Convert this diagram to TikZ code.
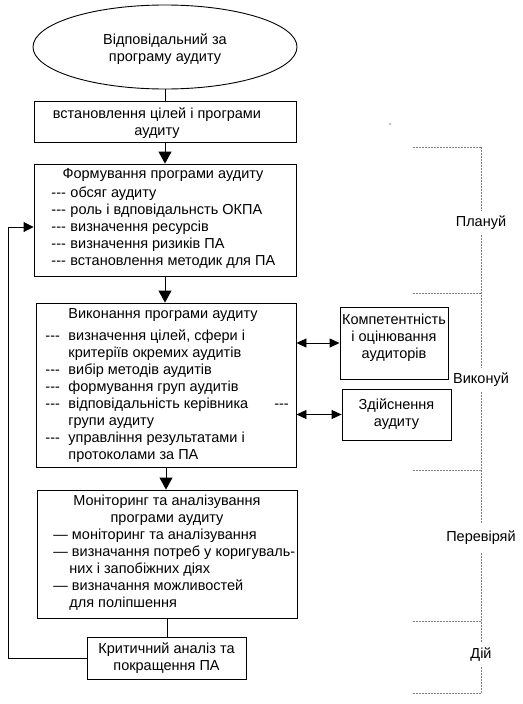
\documentclass[tikz,border=0pt]{standalone}
\usepackage{fontspec}
\setmainfont{Liberation Sans}
\usetikzlibrary{arrows.meta,shapes.geometric}
\newcommand{\dsh}[1]{\makebox[#1][l]{\mbox{-}\mbox{-}\mbox{-}}}

\begin{document}
\begin{tikzpicture}[x=1pt, y=-1pt, line width=0.9pt,
	every node/.style={font=\fontsize{14.5}{17}\selectfont, inner sep=0pt},
	blk/.style={draw, rectangle},
	tip/.style={-{Triangle[length=12pt,width=13pt]}},
	dtip/.style={{Triangle[length=10pt,width=9pt]}-{Triangle[length=10pt,width=9pt]}},
	brk/.style={gray, line width=0.7pt, dash pattern=on 2pt off 1pt},
	phase/.style={minimum height=24pt}]
	\useasboundingbox (0,0) rectangle (522,704);
	% left column
	\node [draw, ellipse, minimum width=264, minimum height=84] (resp) at (165,47) {};
	\node [align=center] (respT) at (165,49) {Відповідальний за\\програму аудиту};
	\node [blk, minimum width=262, minimum height=41] (goal) at (165,121.5) {};
	\node [align=center] (goalT) at (157,123) {встановлення цілей і програми\\аудиту};
	\node [blk, minimum width=262, minimum height=112] (form) at (165,220) {};
	\node (formT) at (163,175) {Формування програми аудиту};
	\node [anchor=north west, align=left] (formL) at (51,186) {\dsh{19pt}обсяг аудиту\\\dsh{19pt}роль і вдповідальнсть ОКПА\\\dsh{19pt}визначення ресурсів\\\dsh{19pt}визначення ризиків ПА\\\dsh{19pt}встановлення методик для ПА};
	\node [blk, minimum width=260, minimum height=164] (exec) at (166,385) {};
	\node (execT) at (163,315) {Виконання програми аудиту};
	\node [anchor=north west, align=left] (execL) at (45,329) {\dsh{23pt}визначення цілей, сфери і\\\hspace*{23pt}критеріїв окремих аудитів\\\dsh{23pt}вибір методів аудитів\\\dsh{23pt}формування груп аудитів\\\dsh{23pt}відповідальність керівника\hspace*{26pt}\dsh{10pt}\\\hspace*{23pt}групи аудиту\\\dsh{23pt}управління результатами і\\\hspace*{23pt}протоколами за ПА};
	\node [blk, minimum width=260, minimum height=128] (mon) at (167,554) {};
	\node [align=center] (monT) at (167,510.5) {Моніторинг та аналізування\\програми аудиту};
	\node [anchor=north west, align=left] (monL) at (53,529) {—\ моніторинг та аналізування\\—\ визначання потреб у коригуваль-\\\hspace*{16pt}них і запобіжних діях\\—\ визначання можливостей\\\hspace*{16pt}для поліпшення};
	\node [blk, minimum width=159, minimum height=42, align=center] (crit) at (166.5,658) {Критичний аналіз та\\покращення ПА};
	% side boxes
	\node [blk, minimum width=108, minimum height=72] (comp) at (394,343) {};
	\node [align=center] (compT) at (394,337.5) {Компетентність\\і оцінювання\\аудиторів};
	\node [blk, minimum width=109, minimum height=51, align=center] (real) at (396.5,414.5) {Здійснення\\аудиту};
	% connectors
	\draw (resp.south) -- (goal.north);
	\draw [tip] (goal.south) -- (form.north);
	\draw [tip] (form.south) -- (form.south |- exec.north);
	\draw [tip] (exec.south) -- (exec.south |- mon.north);
	\draw (mon.south) -- (mon.south |- crit.north);
	\coordinate (back) at (8,658);
	\draw [-{Triangle[length=10pt,width=10pt]}] (crit.west) -- (crit.west -| back) |- ([yshift=-7pt]form.west);
	\draw [dtip] (exec.east |- comp.west) -- (comp.west);
	\draw [dtip] (exec.east |- real.west) -- (real.west);
	% phases
	\node [phase] (plan) at (481,223) {Плануй};
	\node [phase] (exe) at (481,380) {Виконуй};
	\node [phase, minimum height=30pt] (chk) at (481,538) {Перевіряй};
	\node [phase] (act) at (481,655) {Дій};
	\coordinate (b0) at (481,147);
	\coordinate (b1) at (481,293);
	\coordinate (b2) at (481,470);
	\coordinate (b3) at (481,621);
	\coordinate (b4) at (481,693);
	\draw [brk] (b0) -- (plan) (plan) -- (exe) (exe) -- (chk) (chk) -- (act) (act) -- (b4);
	\foreach \b in {b0,b1,b2,b3,b4}
		\draw [brk] (\b) -- ++(-69,0);
	\fill (390,124) circle (0.6);
\end{tikzpicture}
\end{document}
